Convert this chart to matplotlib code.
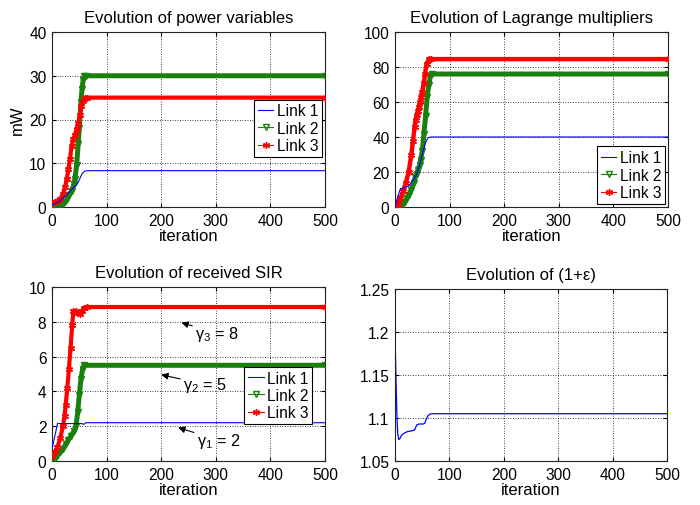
import matplotlib
matplotlib.use("Agg")
import matplotlib.pyplot as plt

plt.rcParams['font.family'] = ['Liberation Sans', 'DejaVu Sans']
plt.rcParams['mathtext.fontset'] = 'custom'
plt.rcParams['mathtext.rm'] = 'Liberation Sans'
plt.rcParams['mathtext.it'] = 'Liberation Sans'

# ---------------- data ----------------
titles = ["Evolution of power variables", "Evolution of Lagrange multipliers",
          "Evolution of received SIR", "Evolution of (1+\u03b5)"]
labels = ["Link 1", "Link 2", "Link 3"]

# power (mW)
p1_it = [0, 10, 20, 30, 40, 45, 50, 55, 60, 65, 500]
p1_val = [0.5, 1.0, 2.0, 3.2, 4.5, 5.0, 6.2, 7.6, 8.2, 8.3, 8.3]
p2_it = [0, 5, 10, 15, 20, 24, 28, 32, 36, 40, 42, 45, 48, 50, 53, 55, 57, 59, 62, 500]
p2_val = [0.5, 0.2, 0.1, 0.4, 0.8, 1.1, 1.8, 2.7, 3.7, 5.2, 6.4, 9.5, 14.5, 18.0, 24.0, 27.0, 29.0, 29.9, 30.0, 30.0]
p3_it = [0, 5, 10, 15, 20, 24, 27, 30, 33, 36, 39, 42, 45, 48, 51, 54, 57, 60, 65, 500]
p3_val = [1.0, 1.1, 1.3, 1.8, 3.0, 4.6, 6.4, 8.6, 11.0, 14.0, 15.6, 16.5, 17.8, 19.2, 21.0, 23.0, 24.3, 24.9, 25.0, 25.0]

# Lagrange multipliers
l1_it = [0, 5, 10, 18, 25, 30, 35, 40, 45, 50, 55, 60, 65, 500]
l1_val = [0.0, 6.0, 10.5, 11.0, 12.0, 14.0, 16.0, 19.0, 24.0, 30.0, 36.0, 39.5, 40.0, 40.0]
l2_it = [0, 5, 10, 14, 18, 22, 25, 30, 34, 37, 40, 42, 45, 47, 50, 53, 56, 59, 62, 65, 68, 500]
l2_val = [0.0, 0.2, 0.5, 1.5, 3.0, 5.0, 7.0, 10.0, 13.5, 17.0, 19.0, 21.0, 24.0, 27.0, 32.0, 42.0, 52.0, 63.0, 70.0, 75.0, 76.0, 76.0]
l3_it = [0, 5, 10, 15, 20, 25, 30, 33, 36, 38, 40, 42, 44, 46, 48, 50, 53, 55, 58, 62, 66, 500]
l3_val = [0.5, 2.0, 5.0, 9.0, 14.0, 20.0, 30.0, 38.0, 46.0, 50.0, 52.5, 55.0, 57.0, 60.0, 63.0, 66.0, 71.0, 76.0, 82.0, 84.3, 84.5, 84.5]

# received SIR
s1_it = [0, 5, 10, 55, 58, 62, 500]
s1_val = [0.7, 1.4, 2.15, 2.15, 2.1, 2.2, 2.2]
s2_it = [0, 5, 10, 15, 20, 25, 30, 35, 40, 44, 47, 50, 53, 56, 59, 500]
s2_val = [0.2, 0.1, 0.3, 0.5, 0.7, 0.95, 1.2, 1.45, 1.7, 2.0, 2.8, 3.8, 4.7, 5.3, 5.5, 5.5]
s3_it = [0, 5, 10, 15, 20, 23, 25, 28, 31, 34, 37, 39, 44, 47, 52, 55, 58, 65, 500]
s3_val = [0.3, 0.5, 0.8, 1.3, 2.0, 2.6, 3.2, 4.2, 5.3, 6.5, 7.8, 8.6, 8.6, 8.5, 8.45, 8.6, 8.8, 8.85, 8.85]

# (1+eps)
e_it = [0, 1, 2, 3, 4, 5, 7, 9, 12, 16, 22, 30, 36, 38, 40, 44, 52, 55, 57, 60, 64, 68, 500]
e_val = [1.195, 1.17, 1.14, 1.115, 1.095, 1.082, 1.075, 1.076, 1.080, 1.082, 1.084, 1.085, 1.086, 1.089,
         1.092, 1.093, 1.093, 1.094, 1.098, 1.102, 1.1045, 1.105, 1.105]

targets = ["\u03b3$_{3}$ = 8", "\u03b3$_{2}$ = 5", "\u03b3$_{1}$ = 2"]
target_tips = [(237, 7.95), (200, 4.96), (231, 1.92)]
target_text = [(262, 7.35), (240, 4.4), (265, 1.2)]

# ---------------- style ----------------
BLUE = (0.0, 0.0, 1.0)
GREEN = (0.1, 0.5, 0.05)
RED = (1.0, 0.0, 0.0)
AST = (6, 2, 0)
FS = 11.2
TFS = 12

W, H = 700, 506
fig = plt.figure(figsize=(W / 100, H / 100), dpi=100)


def pos(l, r, t, b):
    return [l / W, (H - b) / H, (r - l) / W, (b - t) / H]


axes = [fig.add_axes(pos(52, 325, 33, 208)),
        fig.add_axes(pos(395, 668, 33, 208)),
        fig.add_axes(pos(52, 325, 288, 462)),
        fig.add_axes(pos(395, 667, 290, 462))]


def style(ax, title, ylim, yticks, yfmt=None):
    ax.set_xlim(0, 500)
    ax.set_ylim(*ylim)
    ax.set_xticks([0, 100, 200, 300, 400, 500])
    ax.set_yticks(yticks)
    if yfmt:
        ax.set_yticklabels(yfmt)
    ax.grid(True, linestyle=(0, (1, 2)), color='black', linewidth=0.6)
    ax.tick_params(direction='in', length=3, labelsize=FS, pad=4, top=True, right=True)
    for s in ax.spines.values():
        s.set_linewidth(0.8)
        s.set_color('#222222')
    ax.set_title(title, fontsize=TFS, pad=7)
    ax.set_xlabel("iteration", fontsize=TFS, labelpad=0)


def series(ax, xs, ys, color, marker, band, ms, label):
    if band:
        ax.plot(xs, ys, color=color, linewidth=band, solid_capstyle='butt', zorder=2)
        ax.plot(xs, ys, color=color, linewidth=0.8, marker=marker, markersize=ms,
                markerfacecolor='none' if marker == 'v' else color,
                markeredgewidth=1.0, label=label, zorder=3, clip_on=True)
    else:
        ax.plot(xs, ys, color=color, linewidth=0.8, label=label, zorder=4)


def legend(ax, **kw):
    lg = ax.legend(fontsize=FS, fancybox=False, edgecolor='black', framealpha=1,
                   handlelength=1.0, handletextpad=0.2, borderpad=0.25,
                   labelspacing=0.15, borderaxespad=0.2, **kw)
    lg.get_frame().set_linewidth(0.8)


# power
ax = axes[0]
series(ax, p1_it, p1_val, BLUE, None, 0, 0, labels[0])
series(ax, p2_it, p2_val, GREEN, 'v', 3.6, 5, labels[1])
series(ax, p3_it, p3_val, RED, AST, 3.0, 5, labels[2])
style(ax, titles[0], (0, 40), [0, 10, 20, 30, 40])
ax.set_ylabel("mW", fontsize=TFS, labelpad=3)
legend(ax, loc='center right', bbox_to_anchor=(1.0, 0.45))

# Lagrange
ax = axes[1]
series(ax, l1_it, l1_val, BLUE, None, 0, 0, labels[0])
series(ax, l2_it, l2_val, GREEN, 'v', 3.6, 5, labels[1])
series(ax, l3_it, l3_val, RED, AST, 3.2, 5, labels[2])
style(ax, titles[1], (0, 100), [0, 20, 40, 60, 80, 100])
legend(ax, loc='lower right')

# SIR
ax = axes[2]
series(ax, s1_it, s1_val, BLUE, None, 0, 0, labels[0])
series(ax, s2_it, s2_val, GREEN, 'v', 3.6, 5, labels[1])
series(ax, s3_it, s3_val, RED, AST, 3.0, 5, labels[2])
style(ax, titles[2], (0, 10), [0, 2, 4, 6, 8, 10])
legend(ax, loc='upper right', bbox_to_anchor=(0.965, 0.56))
for txt, tip, tpos in zip(targets, target_tips, target_text):
    ax.annotate(txt, xy=tip, xytext=tpos, fontsize=FS + 0.5, ha='left', va='center',
                arrowprops=dict(arrowstyle='-|>', color='black', lw=0.8,
                                mutation_scale=10, shrinkA=0, shrinkB=0))

# epsilon
ax = axes[3]
ax.plot(e_it, e_val, color=BLUE, linewidth=0.9)
style(ax, titles[3], (1.05, 1.25), [1.05, 1.1, 1.15, 1.2, 1.25],
      ["1.05", "1.1", "1.15", "1.2", "1.25"])

fig.savefig("out.png", dpi=100)
